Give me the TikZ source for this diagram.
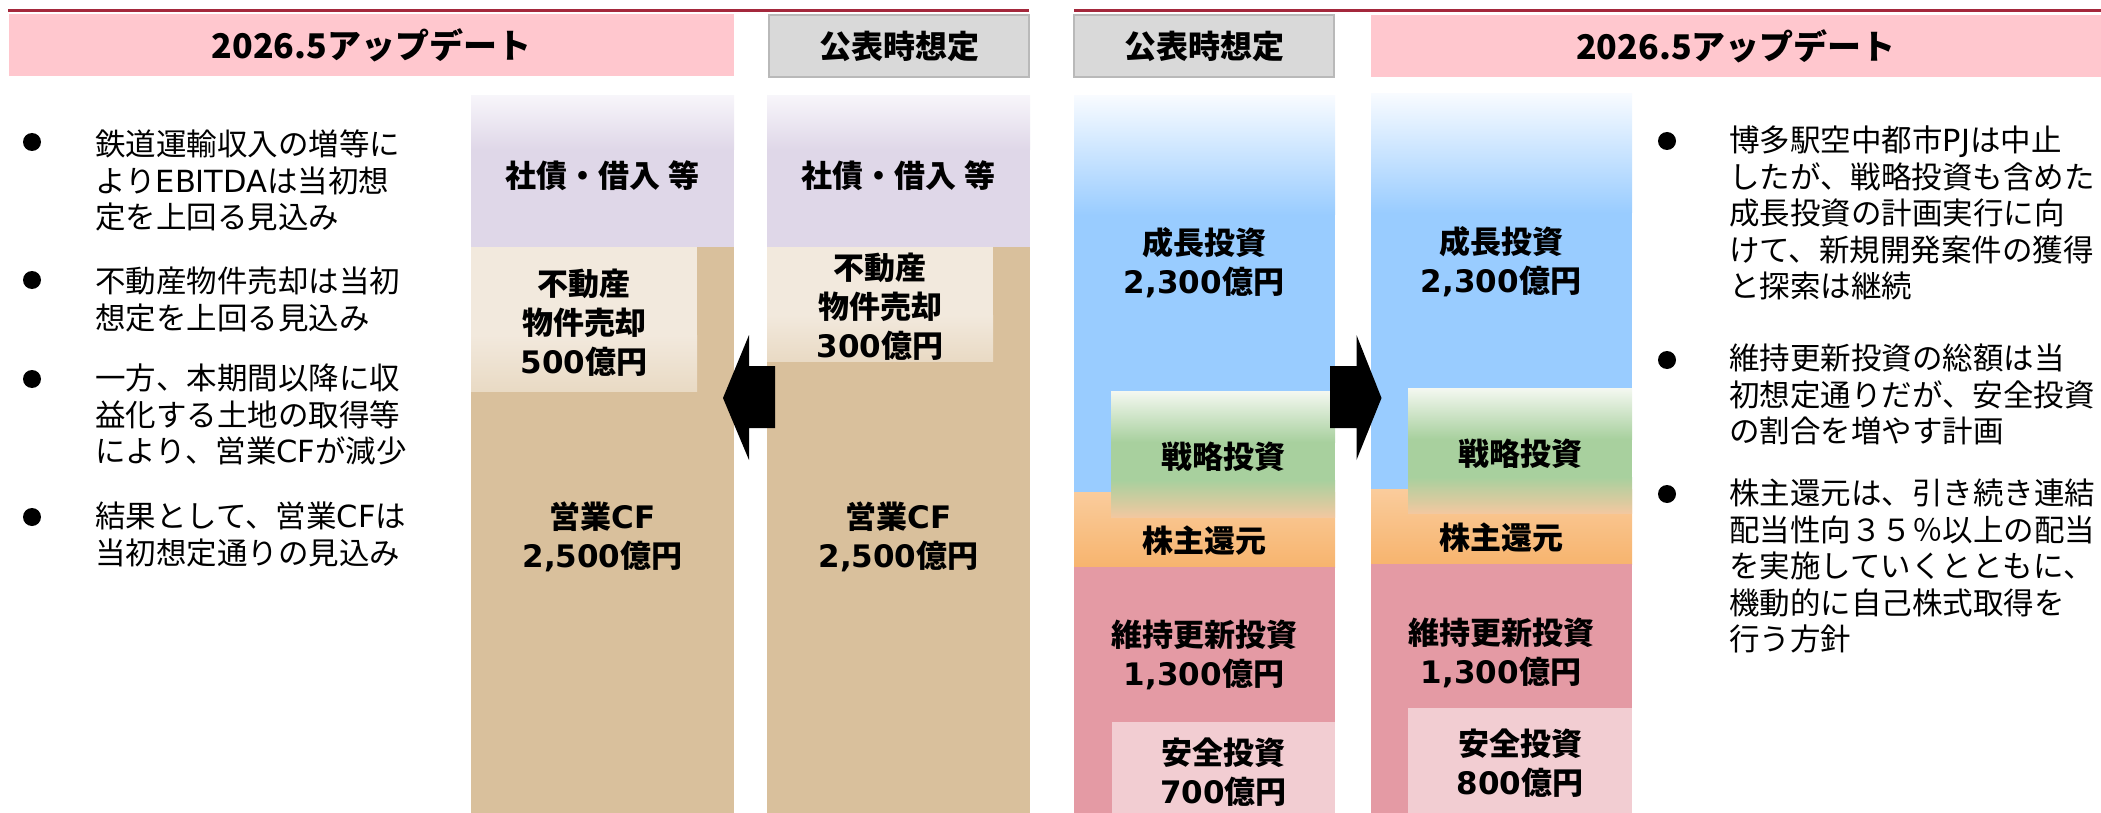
\documentclass[tikz,border=0pt]{standalone}
\usepackage{fontspec}
\setmainfont{Noto Sans CJK JP}
\newfontfamily\lat{DejaVu Sans}
\definecolor{redline}{RGB}{164,40,60}
\definecolor{hdrpink}{RGB}{255,199,206}
\definecolor{hdrgray}{RGB}{217,217,217}
\definecolor{hdrgrayb}{RGB}{185,185,185}
\definecolor{cLav}{RGB}{223,215,232}
\definecolor{cLavTop}{RGB}{247,245,250}
\definecolor{cTan}{RGB}{217,192,156}
\definecolor{cBeige}{RGB}{242,233,221}
\definecolor{cBeigeBot}{RGB}{233,218,196}
\definecolor{cBlue}{RGB}{153,204,255}
\definecolor{cBlueTop}{RGB}{248,251,255}
\definecolor{cGreen}{RGB}{168,208,158}
\definecolor{cGreenTop}{RGB}{244,248,241}
\definecolor{cPeach}{RGB}{242,200,160}
\definecolor{cOrTop}{RGB}{250,204,156}
\definecolor{cOrBot}{RGB}{247,180,110}
\definecolor{cPink}{RGB}{228,154,164}
\definecolor{cPinkLight}{RGB}{242,205,210}
\tikzset{
  lbl/.style={font=\bfseries\fontsize{15.5}{19.5}\selectfont, align=center, inner sep=0pt, text=black},
  txt/.style={font=\fontsize{15.25}{18.25}\selectfont, align=left, inner sep=0pt, anchor=north west, text=black},
  hdrpinkbox/.style={fill=hdrpink, minimum height=31pt, inner sep=0pt, font=\bfseries\fontsize{17}{20}\selectfont},
  hdrgraybox/.style={fill=hdrgray, draw=hdrgrayb, line width=1pt, minimum width=130pt, minimum height=31pt, inner sep=0pt, font=\bfseries\fontsize{16}{20}\selectfont},
  dot/.style={circle, fill=black, minimum size=9pt, inner sep=0pt},
  bigarrow/.style={fill=black},
}
\begin{document}
\begin{tikzpicture}[x=0.5pt, y=-0.5pt]
\useasboundingbox (0,0) rectangle (2101,813);
% top rules
\fill[redline] (8,9.5) rectangle (1029,12.5);
\fill[redline] (1074,9.5) rectangle (2101,12.5);
% headers
\node[hdrpinkbox, minimum width=362.5pt] (h1) at (371.5,45) {2026.5アップデート};
\node[hdrgraybox] (h2) at (899,46) {公表時想定};
\node[hdrgraybox] (h3) at (1204,46.5) {公表時想定};
\node[hdrpinkbox, minimum width=365pt] (h4) at (1736,46.5) {2026.5アップデート};

% ---- column 1 (update, sources)
\fill[cLav] (471,96) rectangle (734,247);
\shade[top color=cLavTop, bottom color=cLav] (471,96) rectangle (734,150);
\fill[cTan] (471,247) rectangle (734,813);
\fill[cBeige] (471,247) rectangle (697,391);
\shade[top color=cBeige, bottom color=cBeigeBot] (471,335) rectangle (697,391);
% ---- column 2 (plan, sources)
\fill[cLav] (767,96) rectangle (1030,247);
\shade[top color=cLavTop, bottom color=cLav] (767,96) rectangle (1030,150);
\fill[cTan] (767,247) rectangle (1030,813);
\fill[cBeige] (767,247) rectangle (993,361);
\shade[top color=cBeige, bottom color=cBeigeBot] (767,315) rectangle (993,361);
% ---- column 3 (plan, uses)
\fill[cBlue] (1074,96) rectangle (1335,492);
\shade[top color=cBlueTop, bottom color=cBlue] (1074,96) rectangle (1335,215);
\shade[top color=cOrTop, bottom color=cOrBot] (1074,492) rectangle (1335,567);
\fill[cPink] (1074,567) rectangle (1335,813);
\fill[cPinkLight] (1112,722) rectangle (1335,813);
\shade[top color=cGreenTop, bottom color=cGreen] (1111,391) rectangle (1335,442);
\fill[cGreen] (1111,441.5) rectangle (1335,480.5);
\shade[top color=cGreen, bottom color=cPeach] (1111,480) rectangle (1335,517);
% ---- column 4 (update, uses)
\fill[cBlue] (1371,94) rectangle (1632,489);
\shade[top color=cBlueTop, bottom color=cBlue] (1371,94) rectangle (1632,213);
\shade[top color=cOrTop, bottom color=cOrBot] (1371,489) rectangle (1632,564);
\fill[cPink] (1371,564) rectangle (1632,813);
\fill[cPinkLight] (1408,708) rectangle (1632,813);
\shade[top color=cGreenTop, bottom color=cGreen] (1408,388) rectangle (1632,439);
\fill[cGreen] (1408,438.5) rectangle (1632,477.5);
\shade[top color=cGreen, bottom color=cPeach] (1408,477) rectangle (1632,513);

% arrows
\fill[bigarrow] (723,398) -- (749,335) -- (749,366) -- (775,366) -- (775,428) -- (749,428) -- (749,460) -- cycle;
\fill[bigarrow] (1330,366) -- (1356.5,366) -- (1356.5,335) -- (1381.5,398) -- (1356.5,460) -- (1356.5,428) -- (1330,428) -- cycle;

% labels column 1
\node[lbl] (c1a) at (602.5,176) {社債・借入 等};
\node[lbl] (c1b) at (584,323) {不動産\\物件売却\\{\lat 500}億円};
\node[lbl] (c1c) at (602.5,536.5) {営業{\lat CF}\\{\lat 2,500}億円};
% labels column 2
\node[lbl] (c2a) at (898.5,176) {社債・借入 等};
\node[lbl] (c2b) at (880,307) {不動産\\物件売却\\{\lat 300}億円};
\node[lbl] (c2c) at (898.5,536.5) {営業{\lat CF}\\{\lat 2,500}億円};
% labels column 3
\node[lbl] (c3a) at (1204,263) {成長投資\\{\lat 2,300}億円};
\node[lbl] (c3b) at (1223,457) {戦略投資};
\node[lbl] (c3c) at (1204,541) {株主還元};
\node[lbl] (c3d) at (1204,655) {維持更新投資\\{\lat 1,300}億円};
\node[lbl] (c3e) at (1223.5,772) {安全投資\\{\lat 700}億円};
% labels column 4
\node[lbl] (c4a) at (1501,261.5) {成長投資\\{\lat 2,300}億円};
\node[lbl] (c4b) at (1520,454) {戦略投資};
\node[lbl] (c4c) at (1501,538) {株主還元};
\node[lbl] (c4d) at (1501,653) {維持更新投資\\{\lat 1,300}億円};
\node[lbl] (c4e) at (1520,763) {安全投資\\{\lat 800}億円};

% left bullet texts
\node[dot] (lb1) at (32,142) {};
\node[dot] (lb2) at (32,280) {};
\node[dot] (lb3) at (32,379) {};
\node[dot] (lb4) at (32,517) {};
\node[txt] (lt1) at (95,129.75) {鉄道運輸収入の増等に\\より{\lat EBITDA}は当初想\\定を上回る見込み};
\node[txt] (lt2) at (95,266.75) {不動産物件売却は当初\\想定を上回る見込み};
\node[txt] (lt3) at (95,363.75) {一方、本期間以降に収\\益化する土地の取得等\\により、営業{\lat CF}が減少};
\node[txt] (lt4) at (95,501.75) {結果として、営業{\lat CF}は\\当初想定通りの見込み};

% right bullet texts
\node[dot] (rb1) at (1667,141) {};
\node[dot] (rb2) at (1667,360) {};
\node[dot] (rb3) at (1667,494) {};
\node[txt] (rt1) at (1729,125.75) {博多駅空中都市{\lat PJ}は中止\\したが、戦略投資も含めた\\成長投資の計画実行に向\\けて、新規開発案件の獲得\\と探索は継続};
\node[txt] (rt2) at (1729,343.75) {維持更新投資の総額は当\\初想定通りだが、安全投資\\の割合を増やす計画};
\node[txt] (rt3) at (1729,478.75) {株主還元は、引き続き連結\\配当性向３５％以上の配当\\を実施していくとともに、\\機動的に自己株式取得を\\行う方針};
\end{tikzpicture}
\end{document}
